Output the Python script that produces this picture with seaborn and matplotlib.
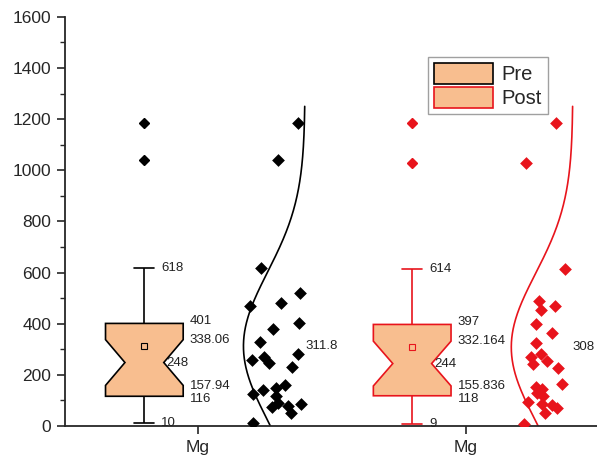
import numpy as np
import pandas as pd
import matplotlib
matplotlib.use("Agg")
import matplotlib.pyplot as plt
import matplotlib.patches as mpatches
from matplotlib.ticker import MultipleLocator
import seaborn as sns

# Mg concentration per sample (25 samples per group)
pre_mg = [10, 51, 75, 78, 86, 90, 116, 125, 141, 149, 161, 230, 248,
          259, 271, 282, 330, 380, 401, 470, 480, 519, 618, 1040, 1185]
post_mg = [9, 50, 72, 80, 85, 92, 118, 128, 145, 152, 165, 228, 244,
           255, 268, 280, 325, 365, 397, 455, 468, 490, 614, 1030, 1185]
groups = ["Pre", "Post"]
tick_labels = ["Mg", "Mg"]

line_colors = ["black", "#E8141C"]
fill_color = "#F8BE8F"
centers = np.array([1.0, 2.0])
box_off, pts_off, curve_off = -0.20, 0.29, 0.40
box_w, cap_w = 0.29, 0.075

sns.set_style("ticks")
plt.rcParams["font.family"] = ["Liberation Sans", "DejaVu Sans"]

fig = plt.figure(figsize=(5.97, 4.57), dpi=100)
ax = fig.add_axes([0.109, 0.068, 0.891, 0.895])

np.random.seed(7)
for i, vals in enumerate([pre_mg, post_mg]):
    v = np.array(vals, dtype=float)
    lc = line_colors[i]
    bx = centers[i] + box_off
    d = pd.DataFrame({"mg": v, "bx": bx, "px": centers[i] + pts_off})

    sns.boxplot(data=d, x="bx", y="mg", native_scale=True, notch=True,
                width=box_w, color=fill_color, saturation=1, linecolor=lc,
                linewidth=1.2, showmeans=True, whis=1.5, capwidths=cap_w,
                meanprops=dict(marker="s", markerfacecolor="none",
                               markeredgecolor=lc, markersize=4.5,
                               markeredgewidth=0.8),
                medianprops=dict(linewidth=0),
                flierprops=dict(marker="D", markerfacecolor=lc,
                                markeredgecolor=lc, markersize=5.5),
                ax=ax)
    sns.stripplot(data=d, x="px", y="mg", native_scale=True, jitter=0.1,
                  marker="D", size=6.5, color=lc, linewidth=0, ax=ax, zorder=3)

    # normal curve fitted to the group
    mu, sd = v.mean(), v.std(ddof=1)
    yy = np.linspace(-150, 1250, 400)
    xx = centers[i] + curve_off - 0.23 * np.exp(-0.5 * ((yy - mu) / sd) ** 2)
    ax.plot(xx, yy, color=lc, lw=1.2, zorder=2)

    # box statistics labels
    q1, med, q3 = np.percentile(v, [25, 50, 75])
    iqr = q3 - q1
    notch = 1.58 * iqr / np.sqrt(len(v))
    lo = v[v >= q1 - 1.5 * iqr].min()
    hi = v[v <= q3 + 1.5 * iqr].max()
    kw = dict(fontsize=9.5, ha="left", va="center", color="#222222")
    xr = bx + box_w / 2 + 0.025
    ax.text(bx + cap_w / 2 + 0.025, hi, f"{hi:g}", **kw)
    ax.text(bx + cap_w / 2 + 0.025, lo, f"{lo:g}", **kw)
    ax.text(xr, q3 + 8, f"{q3:g}", **kw)
    ax.text(xr, med + notch, f"{med + notch:g}", **kw)
    ax.text(xr, med - notch, f"{med - notch:g}", **kw)
    ax.text(xr, q1 - 12, f"{q1:g}", **kw)
    ax.text(bx + box_w / 4 + 0.01, med, f"{med:g}", **kw)
    ax.text(centers[i] + 0.40, mu, f"{mu:g}", **kw)

ax.set_xlim(0.504, 2.49)
ax.set_ylim(0, 1600)
ax.set_xticks(centers)
ax.set_xticklabels(tick_labels)
ax.yaxis.set_major_locator(MultipleLocator(200))
ax.yaxis.set_minor_locator(MultipleLocator(100))
ax.set_xlabel("")
ax.set_ylabel("")
ax.tick_params(axis="both", which="major", direction="out", length=6,
               width=1.2, labelsize=12.5, pad=4)
ax.tick_params(axis="y", which="minor", direction="out", length=3.5, width=1)
sns.despine(ax=ax)
for s in ["left", "bottom"]:
    ax.spines[s].set_linewidth(1.3)

handles = [mpatches.Patch(facecolor=fill_color, edgecolor=c, linewidth=1.2)
           for c in line_colors]
leg = ax.legend(handles, groups, loc="upper right",
                bbox_to_anchor=(0.908, 0.902), fontsize=14.5, frameon=True,
                fancybox=False, edgecolor="#888888", handlelength=2.9,
                handleheight=1.25, labelspacing=0.12, borderpad=0.3,
                handletextpad=0.45, borderaxespad=0)
leg.get_frame().set_linewidth(1.0)

fig.savefig("out.png", dpi=100)
